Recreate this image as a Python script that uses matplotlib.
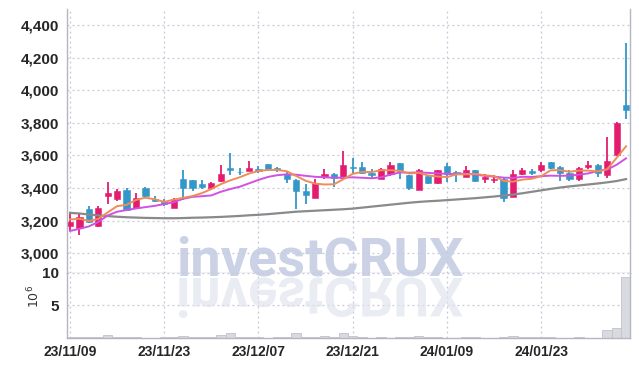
import matplotlib
matplotlib.use("Agg")
import matplotlib.pyplot as plt
import numpy as np
from matplotlib.font_manager import FontProperties
from matplotlib.patches import PathPatch
from matplotlib.textpath import TextPath
from matplotlib.transforms import Affine2D

# -- Data -------------------------------------------------------------------

tick_idx = [0, 10, 20, 30, 40, 50]
tick_labels = ["23/11/09", "23/11/23", "23/12/07", "23/12/21", "24/01/09", "24/01/23"]

opens = [3170, 3157, 3270, 3165, 3352, 3330, 3388, 3280, 3402, 3335,
         3318, 3280, 3458, 3448, 3422, 3398, 3445, 3520, 3500, 3505,
         3515, 3545, 3520, 3488, 3448, 3382, 3342, 3465, 3484, 3460,
         3528, 3530, 3495, 3458, 3485, 3552, 3478, 3390, 3475, 3430,
         3535, 3498, 3468, 3509, 3458, 3448, 3454, 3348, 3486, 3502,
         3512, 3560, 3532, 3491, 3455, 3530, 3540, 3480, 3601, 3908]
closes = [3190, 3225, 3190, 3280, 3368, 3380, 3268, 3340, 3350, 3318,
          3300, 3335, 3398, 3403, 3408, 3428, 3485, 3512, 3496, 3525,
          3506, 3515, 3512, 3455, 3383, 3358, 3428, 3484, 3460, 3540,
          3522, 3490, 3480, 3515, 3540, 3505, 3403, 3509, 3430, 3509,
          3485, 3488, 3509, 3444, 3466, 3458, 3342, 3485, 3508, 3490,
          3540, 3522, 3492, 3455, 3525, 3541, 3495, 3566, 3800, 3880]
highs = [3239, 3250, 3288, 3288, 3437, 3395, 3400, 3368, 3405, 3350,
         3335, 3338, 3511, 3452, 3450, 3435, 3540, 3613, 3525, 3566,
         3535, 3550, 3530, 3505, 3454, 3423, 3458, 3515, 3495, 3628,
         3587, 3562, 3515, 3520, 3562, 3555, 3482, 3515, 3478, 3512,
         3556, 3502, 3535, 3512, 3485, 3478, 3464, 3511, 3520, 3515,
         3560, 3562, 3535, 3511, 3530, 3566, 3550, 3710, 3802, 4288]
lows = [3137, 3110, 3184, 3164, 3300, 3318, 3260, 3276, 3345, 3312,
        3290, 3278, 3325, 3382, 3393, 3394, 3437, 3478, 3478, 3503,
        3491, 3505, 3500, 3433, 3270, 3300, 3340, 3454, 3409, 3456,
        3495, 3485, 3458, 3455, 3475, 3458, 3388, 3385, 3425, 3426,
        3437, 3437, 3468, 3440, 3429, 3433, 3315, 3345, 3480, 3482,
        3499, 3518, 3444, 3444, 3444, 3515, 3470, 3460, 3598, 3826]

ma_short = [3207, 3212, 3198, 3211, 3251, 3289, 3297, 3327, 3341, 3331,
            3315, 3329, 3340, 3351, 3369, 3394, 3424, 3447, 3466, 3489,
            3505, 3511, 3511, 3503, 3474, 3445, 3427, 3422, 3423, 3454,
            3487, 3499, 3498, 3509, 3509, 3506, 3489, 3494, 3477, 3471,
            3467, 3484, 3484, 3487, 3478, 3473, 3444, 3439, 3452, 3457,
            3473, 3509, 3510, 3500, 3507, 3507, 3502, 3516, 3585, 3656]
ma_mid = [3137, 3150, 3165, 3192, 3232, 3255, 3265, 3275, 3283, 3291,
          3302, 3313, 3334, 3346, 3350, 3355, 3377, 3394, 3408, 3429,
          3450, 3468, 3479, 3484, 3482, 3475, 3469, 3466, 3463, 3464,
          3466, 3463, 3460, 3466, 3482, 3496, 3494, 3496, 3493, 3490,
          3487, 3486, 3489, 3482, 3475, 3470, 3464, 3462, 3469, 3468,
          3473, 3476, 3475, 3476, 3482, 3490, 3505, 3513, 3543, 3582]
ma_long = [3248, 3244, 3238, 3232, 3228, 3224, 3221, 3219, 3217, 3216,
           3215, 3215, 3216, 3218, 3219, 3221, 3223, 3226, 3229, 3233,
           3236, 3240, 3245, 3250, 3255, 3258, 3261, 3264, 3267, 3270,
           3274, 3280, 3286, 3292, 3298, 3304, 3310, 3315, 3319, 3322,
           3326, 3330, 3334, 3338, 3343, 3348, 3354, 3360, 3368, 3377,
           3386, 3395, 3403, 3410, 3416, 3422, 3428, 3435, 3443, 3455]

volume = [0.15, 0.15, 0.15, 0.15, 0.45, 0.15, 0.15, 0.15, 0.03, 0.03,
          0.15, 0.15, 0.25, 0.15, 0.15, 0.15, 0.45, 0.7, 0.15, 0.15,
          0.15, 0.03, 0.15, 0.15, 0.7, 0.15, 0.15, 0.3, 0.15, 0.7,
          0.3, 0.15, 0.03, 0.15, 0.03, 0.15, 0.15, 0.3, 0.15, 0.15,
          0.03, 0.03, 0.15, 0.15, 0.03, 0.03, 0.15, 0.3, 0.15, 0.15,
          0.15, 0.15, 0.03, 0.03, 0.15, 0.03, 0.03, 1.15, 1.55, 9.3]

UP = "#e31c6e"
DOWN = "#3497c9"
GRID = "#c5c6dc"
SPINE = "#b4b6c4"
TICK_FONT = "Liberation Sans"

W, H = 639, 366
fig = plt.figure(figsize=(W / 100, H / 100), dpi=100)


def px_axes(x0, y0, x1, y1):
    # pixel box (top-left origin) -> figure fraction
    return fig.add_axes([x0 / W, 1 - y1 / H, (x1 - x0) / W, (y1 - y0) / H])


ax = px_axes(67, 9.3, 630, 272.7)
axv = px_axes(67, 272.7, 630, 338)

x = np.arange(len(closes))
o = np.array(opens)
c = np.array(closes)
colors = [UP if cc >= oo else DOWN for oo, cc in zip(o, c)]

# -- Price panel --------------------------------------------------------------
ax.vlines(x, lows, highs, colors=colors, linewidth=1.3, zorder=2)
body_lo = np.minimum(o, c)
body_h = np.maximum(np.abs(c - o), 4)
ax.bar(x, body_h, bottom=body_lo, width=0.66, color=colors,
       edgecolor=colors, linewidth=0.4, zorder=2)

ax.plot(x, ma_long, color="#8a8a8a", lw=1.6, zorder=3)
ax.plot(x, ma_mid, color="#cf52e3", lw=1.4, zorder=3)
ax.plot(x, ma_short, color="#f08c58", lw=1.4, zorder=3)

ax.set_xlim(-0.32, 59.42)
ax.set_ylim(2881, 4496)
ax.set_yticks(range(3000, 4401, 200))
ax.set_yticklabels([f"{v:,}" for v in range(3000, 4401, 200)])
ax.set_xticks(tick_idx)
ax.tick_params(axis="x", labelbottom=False, length=0)
ax.tick_params(axis="y", length=0, pad=6)
ax.grid(True, color=GRID, linestyle=(0, (1.5, 2.5)), linewidth=0.9)
ax.set_axisbelow(True)

# -- Volume panel -------------------------------------------------------------
axv.bar(x, volume, width=1.0, color="#d9d9e0", edgecolor="#c2c2cc",
        linewidth=0.6, zorder=2)
axv.set_xlim(-0.32, 59.42)
axv.set_ylim(0, 10)
axv.set_yticks([5, 10])
axv.set_yticklabels(["5", "10"])
axv.set_xticks(tick_idx)
axv.set_xticklabels(tick_labels)
axv.tick_params(axis="both", length=0)
axv.tick_params(axis="y", pad=6)
axv.tick_params(axis="x", pad=5)
axv.grid(True, color=GRID, linestyle=(0, (1.5, 2.5)), linewidth=0.9)
axv.set_axisbelow(True)

for a in (ax, axv):
    a.spines["top"].set_visible(False)
    for side in ("left", "right", "bottom"):
        a.spines[side].set_color(SPINE)
        a.spines[side].set_linewidth(1.0)
    for lab in a.get_yticklabels():
        lab.set_family(TICK_FONT)
        lab.set_fontweight("bold")
        lab.set_fontsize(11)
        lab.set_color("#262626")
    for lab in a.get_xticklabels():
        lab.set_family(TICK_FONT)
        lab.set_fontweight("bold")
        lab.set_fontsize(10)
        lab.set_color("#262626")

fig.text(34 / W, 1 - 296 / H, r"$10^6$", rotation=90, ha="center",
         va="center", fontsize=9, color="#333333")

# -- Watermark with reflection -----------------------------------------------
wm = fig.add_axes([0, 0, 1, 1], zorder=5)
wm.set_xlim(0, W)
wm.set_ylim(H, 0)
wm.axis("off")
wm.patch.set_alpha(0)

wm_prop = FontProperties(family="Roboto", weight="bold")
wm_x, wm_base, wm_width = 176, 276, 284
probe = TextPath((0, 0), "investCRUX", size=100, prop=wm_prop)
size_px = 100 * wm_width / probe.get_extents().width
wm.text(wm_x, wm_base, "investCRUX", fontproperties=wm_prop,
        fontsize=size_px * 72 / 100, color="#c6cde3", ha="left",
        va="baseline", alpha=0.9)
# mirrored copy below the baseline
tp = TextPath((0, 0), "investCRUX", size=size_px, prop=wm_prop)
mirror = Affine2D().translate(wm_x, wm_base + 2)
wm.add_patch(PathPatch(mirror.transform_path(tp), facecolor="#e0e3ed",
                       edgecolor="none", alpha=0.65))

fig.savefig("out.png", dpi=100)
